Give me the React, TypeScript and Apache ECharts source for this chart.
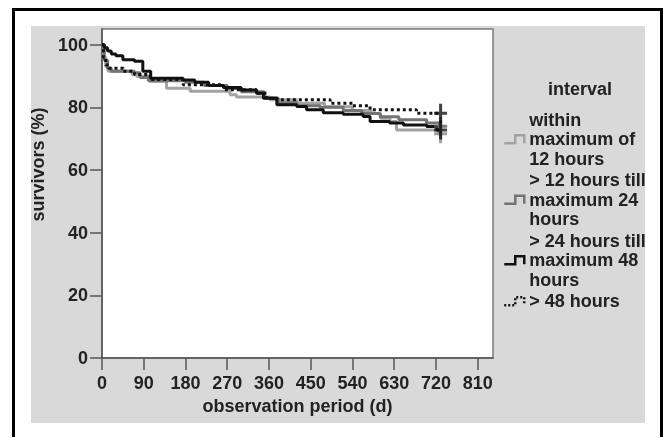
import React, { useEffect, useRef } from 'react';
import * as echarts from 'echarts';

// ---- data ----
const seriesNames = [
  'within\nmaximum of\n12 hours',
  '> 12 hours till\nmaximum 24\nhours',
  '> 24 hours till\nmaximum 48\nhours',
  '> 48 hours',
];

// Kaplan-Meier step points: day of event, survival (%) after event
const within12Days = [0, 4, 8, 13, 65, 75, 103, 139, 190, 276, 290, 362, 420, 480, 540, 580, 600, 621, 635, 725];
const within12Surv = [100, 96, 93, 91.5, 90.4, 89.9, 88.3, 86.1, 85.1, 84, 83.3, 82.4, 81.3, 80.2, 79, 78, 76.5, 75.5, 72.8, 71.6];

const h12to24Days = [0, 5, 12, 20, 70, 82, 100, 180, 220, 270, 300, 350, 380, 420, 470, 520, 560, 600, 640, 700, 728];
const h12to24Surv = [100, 95, 92.5, 91.5, 91, 89.5, 88.5, 88, 87, 86, 85, 83, 81.5, 80.5, 80, 79, 78, 77, 76, 75, 74];

const h24to48Days = [0, 5, 12, 20, 30, 45, 70, 88, 105, 175, 200, 230, 262, 300, 333, 348, 377, 420, 441, 477, 520, 563, 578, 620, 650, 700, 722];
const h24to48Surv = [100, 99, 98, 97, 96.5, 95.2, 94.7, 91.5, 89.3, 88.7, 88, 87, 86.3, 85.5, 84.5, 82.9, 80.8, 80.3, 79.2, 78.3, 77.8, 77.1, 75.5, 75, 74.4, 73.9, 72.8];

const over48Days = [0, 3, 8, 15, 46, 70, 104, 175, 262, 333, 355, 377, 492, 540, 578, 678];
const over48Surv = [100, 96, 93.5, 92.5, 91.5, 90.5, 88.9, 87.2, 85.6, 84.5, 82.9, 82.4, 81.3, 80.5, 79.2, 78.1];

// censored at end of observation
const censorDay = 730;

const xTickValues = [0, 90, 180, 270, 360, 450, 540, 630, 720, 810];
const yTickValues = [0, 20, 40, 60, 80, 100];

const colors = ['#a3a3a3', '#737373', '#111111', '#111111'];
const censorColors = ['#8a8a8a', '#5a5a5a', '#111111', '#111111'];

const FONT = '"Liberation Sans", Arial, sans-serif';
const PLUS = 'path://M5,0H8V8H13V11H8V19H5V11H0V8H5Z';
const STEP_ICON = 'path://M0,8H11V0H20V8';

function toPairs(days: number[], surv: number[]) {
  const pts = days.map((d, i) => [d, surv[i]]);
  pts.push([censorDay, surv[surv.length - 1]]);
  return pts;
}

export default function App() {
  const ref = useRef<HTMLDivElement>(null);

  useEffect(() => {
    if (!ref.current) return;
    const chart = echarts.init(ref.current, null, { renderer: 'svg' });

    const curves = [
      toPairs(within12Days, within12Surv),
      toPairs(h12to24Days, h12to24Surv),
      toPairs(h24to48Days, h24to48Surv),
      toPairs(over48Days, over48Surv),
    ];

    const lineSeries = curves.map((pts, i) => ({
      name: seriesNames[i],
      type: 'line',
      step: 'end',
      data: pts,
      symbol: 'none',
      color: colors[i],
      lineStyle: {
        color: colors[i],
        width: 3,
        type: i === 3 ? [3, 3] : 'solid',
      },
      z: 2 + i,
    }));

    const censorSeries = curves.map((pts, i) => ({
      name: 'censor' + i,
      type: 'scatter',
      data: [pts[pts.length - 1]],
      symbol: PLUS,
      symbolSize: [13, 19],
      itemStyle: { color: censorColors[i] },
      z: 10,
    }));

    const textBase = { fontFamily: FONT, fontWeight: 'bold', fontSize: 18, color: '#222' };

    chart.setOption({
      animation: false,
      graphic: [
        {
          type: 'rect',
          z: -20,
          shape: { x: 13.5, y: 9.5, width: 648, height: 450 },
          style: { fill: '#ffffff', stroke: '#000000', lineWidth: 3 },
        },
        {
          type: 'rect',
          z: -19,
          shape: { x: 31, y: 26, width: 614, height: 397 },
          style: { fill: '#d9d9d9' },
        },
      ],
      title: {
        text: 'interval',
        left: 548,
        top: 80,
        padding: 0,
        textStyle: { ...textBase },
      },
      legend: {
        orient: 'vertical',
        left: 503,
        top: 110,
        padding: 0,
        itemGap: 2,
        itemWidth: 20,
        itemHeight: 8,
        selectedMode: false,
        icon: STEP_ICON,
        textStyle: { ...textBase, lineHeight: 19.5 },
        data: seriesNames.map((n, i) => ({
          name: n,
          icon: STEP_ICON,
          itemStyle: {
            color: 'transparent',
            borderColor: colors[i],
            borderWidth: 2.5,
            borderType: i === 3 ? [2, 2] : 'solid',
          },
        })),
      },
      grid: {
        left: 102,
        top: 29,
        right: 176,
        bottom: 79,
        show: true,
        backgroundColor: '#ffffff',
        borderColor: '#7a7a7a',
        borderWidth: 1.5,
      },
      xAxis: {
        type: 'value',
        min: 0,
        max: 843,
        name: 'observation period (d)',
        nameLocation: 'middle',
        nameGap: 37,
        nameTextStyle: { ...textBase },
        axisLine: { show: true, onZero: false, lineStyle: { color: '#555', width: 1.5 } },
        axisTick: { show: true, length: 12, customValues: xTickValues, lineStyle: { color: '#555', width: 1.5 } },
        axisLabel: { ...textBase, margin: 16, customValues: xTickValues },
        splitLine: { show: false },
      },
      yAxis: {
        type: 'value',
        min: 0,
        max: 105,
        name: 'survivors (%)',
        nameLocation: 'middle',
        nameGap: 52,
        nameTextStyle: { ...textBase, padding: [0, 0, 0, 58] },
        axisLine: { show: true, onZero: false, lineStyle: { color: '#555', width: 1.5 } },
        axisTick: { show: true, length: 12, customValues: yTickValues, lineStyle: { color: '#555', width: 1.5 } },
        axisLabel: { ...textBase, margin: 14, customValues: yTickValues },
        splitLine: { show: false },
      },
      series: [...lineSeries, ...censorSeries],
    });

    return () => chart.dispose();
  }, []);

  return (
    <div
      ref={ref}
      style={{ position: 'fixed', left: 0, top: 0, width: 669, height: 437 }}
    />
  );
}
